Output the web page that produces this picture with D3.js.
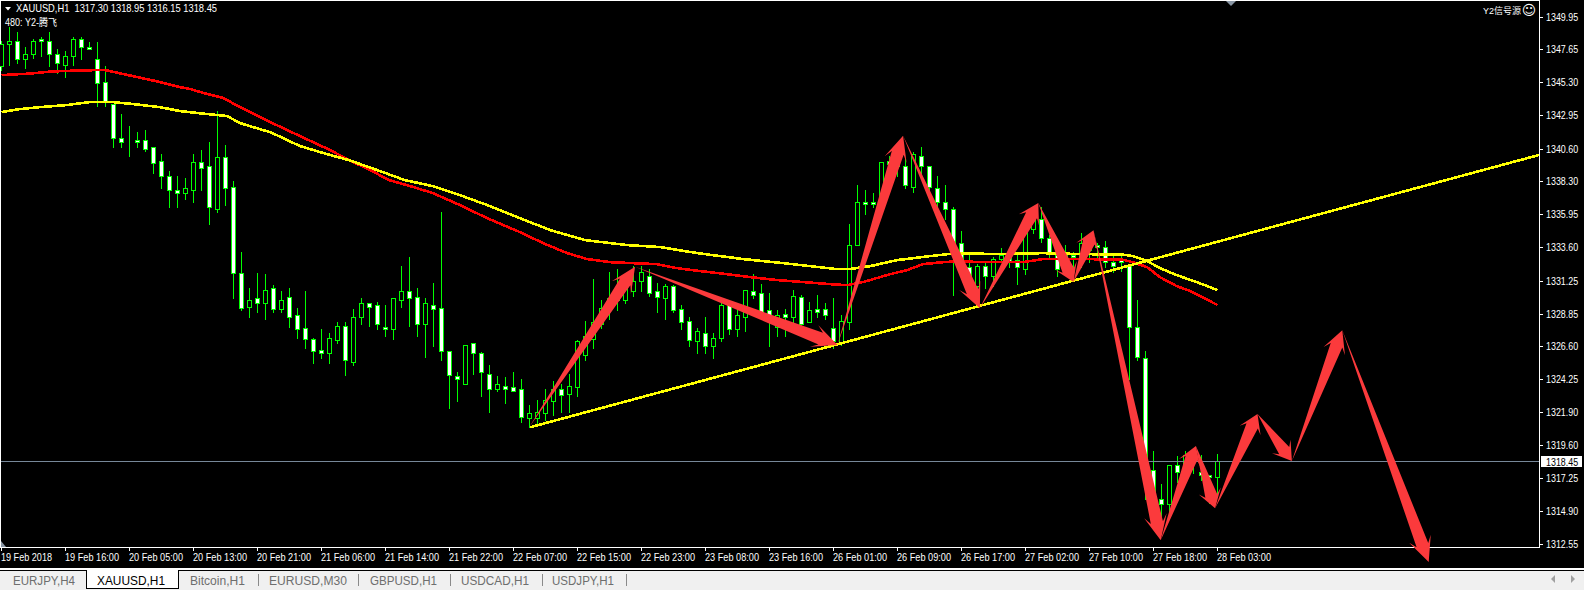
<!DOCTYPE html>
<html><head><meta charset="utf-8">
<script src="https://cdnjs.cloudflare.com/ajax/libs/d3/7.8.5/d3.min.js"></script>
<style>html,body{margin:0;padding:0;background:#f0f0f0;overflow:hidden}svg{display:block}</style>
</head><body><svg id="c" width="1584" height="592"></svg>
<script>
const opens=[1346.40,1347.95,1348.20,1346.90,1347.25,1348.30,1348.20,1347.30,1346.50,1347.10,
1348.30,1347.80,1346.95,1345.30,1343.75,1341.35,1341.15,1341.20,1341.15,1340.65,
1339.70,1338.65,1337.65,1337.40,1337.60,1339.65,1339.30,1336.25,1339.95,1337.85,
1331.75,1329.35,1329.95,1329.65,1330.70,1329.20,1330.05,1328.75,1327.85,1327.10,
1326.30,1326.10,1327.00,1328.00,1325.45,1328.65,1329.60,1329.45,1327.95,1327.80,
1329.85,1330.45,1330.05,1328.15,1329.50,1329.30,1326.25,1324.45,1323.90,1326.75,
1326.10,1324.60,1323.55,1323.75,1323.70,1323.50,1321.50,1321.50,1321.80,1322.65,
1323.55,1323.20,1323.70,1325.90,1327.10,1328.15,1329.15,1330.00,1329.85,1330.50,
1331.20,1331.50,1330.50,1330.00,1330.80,1329.20,1328.35,1326.95,1327.50,1326.55,
1327.15,1329.45,1327.75,1328.65,1330.50,1330.30,1329.10,1327.95,1328.85,1328.65,
1330.05,1328.25,1329.20,1329.20,1327.85,1326.80,1328.30,1333.70,1336.80,1336.80,
1336.75,1339.70,1339.55,1339.30,1337.85,1340.05,1339.30,1337.75,1336.75,1336.25,
1333.90,1332.20,1330.80,1332.25,1331.50,1332.75,1332.85,1332.70,1332.05,1334.90,
1335.60,1334.25,1333.05,1333.00,1333.00,1332.70,1333.70,1333.70,1333.60,1332.50,
1332.70,1332.25,1327.95,1325.75,1317.80,1315.70,1315.35,1318.15,1318.15,1319.10,
1317.65,1317.40,1317.30];
const highs=[1348.20,1349.15,1348.80,1347.75,1348.35,1348.50,1348.80,1347.60,1347.50,1348.50,
1348.45,1348.10,1348.15,1346.45,1343.75,1343.05,1342.20,1341.75,1341.85,1340.65,
1340.15,1338.95,1338.60,1338.45,1340.15,1340.50,1341.00,1343.20,1340.85,1338.30,
1333.25,1330.65,1331.75,1331.70,1330.90,1330.50,1330.65,1329.30,1330.45,1327.15,
1327.75,1327.50,1328.30,1328.30,1329.20,1329.95,1329.60,1329.70,1329.45,1330.00,
1332.25,1332.85,1330.70,1329.95,1331.05,1336.10,1326.25,1324.70,1326.65,1326.80,
1326.15,1325.20,1324.45,1324.35,1324.70,1324.20,1322.40,1322.75,1323.55,1324.10,
1323.90,1324.60,1327.00,1328.35,1331.30,1329.85,1331.85,1332.00,1331.55,1332.25,
1332.25,1332.05,1331.05,1331.00,1330.90,1329.50,1328.65,1327.85,1328.60,1327.50,
1330.00,1329.45,1329.15,1330.55,1331.65,1331.00,1330.35,1329.15,1329.20,1330.55,
1330.20,1329.70,1330.20,1329.65,1329.95,1328.75,1335.20,1337.95,1337.60,1337.40,
1339.65,1340.05,1339.80,1339.80,1340.35,1340.70,1339.30,1338.60,1337.95,1336.40,
1334.70,1333.25,1332.40,1332.50,1332.90,1333.55,1333.40,1333.25,1335.20,1336.10,
1336.40,1334.45,1333.10,1333.70,1333.25,1334.55,1334.25,1333.85,1334.05,1333.05,
1333.10,1332.35,1329.85,1326.25,1319.10,1316.80,1318.15,1318.75,1319.10,1319.20,
1318.85,1317.40,1318.95];
const lows=[1346.15,1346.50,1346.65,1346.30,1347.00,1347.15,1346.40,1345.90,1345.65,1346.50,
1346.95,1347.60,1343.60,1343.60,1340.65,1340.70,1340.05,1340.65,1340.40,1338.85,
1337.75,1336.45,1336.45,1337.00,1336.75,1337.65,1335.25,1336.10,1336.60,1330.00,
1329.15,1328.60,1329.00,1328.50,1329.00,1328.95,1327.95,1327.15,1326.40,1325.40,
1325.75,1325.40,1326.80,1324.55,1325.25,1328.15,1328.00,1327.75,1327.25,1327.10,
1329.35,1328.00,1327.30,1325.80,1326.60,1325.60,1322.20,1322.70,1323.90,1324.60,
1323.00,1321.90,1323.35,1322.50,1323.35,1321.15,1320.85,1321.00,1321.35,1321.70,
1321.90,1321.90,1323.00,1325.60,1326.45,1327.85,1328.45,1329.15,1329.60,1330.15,
1330.50,1330.15,1329.00,1328.50,1328.95,1327.80,1326.55,1326.05,1326.10,1325.70,
1326.95,1327.45,1327.30,1327.65,1329.95,1328.95,1326.60,1327.30,1327.25,1328.25,
1327.95,1328.25,1328.65,1328.50,1326.45,1326.65,1327.75,1333.70,1335.95,1336.40,
1336.75,1339.10,1338.65,1337.80,1337.50,1338.85,1337.50,1336.40,1335.55,1330.20,
1331.30,1330.05,1329.95,1330.70,1330.80,1332.55,1332.15,1331.00,1331.65,1334.60,
1333.95,1332.85,1331.50,1332.00,1332.00,1332.15,1332.55,1332.65,1332.15,1331.85,
1331.90,1324.20,1325.60,1315.70,1315.70,1313.90,1314.90,1316.95,1317.65,1317.60,
1317.05,1315.45,1316.15];
const closes=[1347.95,1348.20,1346.90,1347.25,1348.20,1348.20,1347.30,1346.60,1347.15,1348.30,
1347.80,1347.65,1345.25,1343.90,1341.35,1341.00,1341.15,1341.05,1340.55,1339.55,
1338.60,1337.60,1337.45,1337.75,1339.65,1339.20,1336.40,1339.95,1337.75,1331.75,
1329.30,1329.85,1329.65,1330.55,1329.20,1329.80,1328.65,1327.80,1327.10,1326.25,
1326.10,1327.15,1328.00,1325.60,1328.65,1329.60,1329.35,1328.10,1327.80,1329.95,
1330.45,1330.00,1328.15,1329.60,1329.20,1326.25,1324.55,1324.25,1326.65,1326.05,
1324.70,1323.55,1323.85,1323.55,1323.40,1321.55,1321.85,1321.90,1322.75,1323.55,
1323.10,1323.75,1326.95,1327.25,1328.25,1329.30,1329.95,1329.85,1330.65,1331.20,
1331.85,1330.35,1330.05,1330.80,1329.15,1328.30,1327.00,1327.60,1326.55,1327.15,
1329.50,1327.80,1328.75,1330.55,1330.20,1329.00,1328.65,1328.80,1328.65,1330.15,
1328.15,1329.10,1329.00,1328.80,1326.95,1328.35,1333.70,1336.75,1336.65,1336.65,
1339.65,1339.45,1339.30,1338.00,1340.15,1339.30,1337.85,1336.75,1336.25,1333.75,
1331.85,1331.30,1332.25,1331.50,1332.75,1333.05,1332.55,1332.15,1334.80,1335.65,
1334.25,1333.10,1332.05,1332.55,1332.85,1333.85,1333.40,1333.60,1332.50,1332.25,
1332.55,1327.95,1325.80,1317.80,1315.80,1315.35,1318.15,1317.65,1318.85,1318.35,
1317.45,1317.25,1318.45];

const redBars=[0,3.6,6.1,9.2,12.3,12.9,13.9,16.4,19.8,22.3,23.6,25.7,27.7,29.8,32.3,33.6,37.3,41.1,43.4,46.1,48.4,51.1,53.9,57.3,60.7,64.8,67.7,70.7,73.2,76.1,78.9,81.9,84.4,87.3,90.7,93.6,97,100.2,103.6,105.7,107.7,111.1,113.2,115.2,117.7,120.2,122,125.2,127.7,130.2,135.2,140.1,141.4,143.2,144.8,146.9,148.6,152];
const redPrices=[1345.81,1345.92,1346.06,1346.13,1346.17,1346.17,1346.05,1345.74,1345.32,1344.96,1344.82,1344.47,1344.20,1343.54,1342.83,1342.48,1341.49,1340.49,1339.79,1339.08,1338.37,1337.94,1337.45,1336.60,1335.67,1334.68,1333.90,1333.19,1332.77,1332.55,1332.48,1332.41,1332.13,1331.92,1331.70,1331.49,1331.28,1331.14,1330.99,1330.92,1331.14,1331.70,1331.99,1332.41,1332.55,1332.63,1332.55,1332.55,1332.55,1332.77,1332.77,1332.73,1332.55,1332.20,1331.49,1330.85,1330.50,1329.51];
const yellowBars=[0,2.3,4.8,8.2,11.1,13.9,16.4,19.8,22.3,25.7,28.2,29.8,32.3,33.6,37.3,41.1,43.4,47.3,50.4,53.9,57.3,60.7,64.8,68.6,73,78.2,82.3,87,92.7,97.7,104.4,106,108.6,112,116.1,119.4,124.4,130.2,135.2,140.1,141.4,143.2,144.8,146.9,149.4,152];
const yellowPrices=[1343.19,1343.40,1343.54,1343.69,1343.90,1343.90,1343.76,1343.54,1343.26,1343.05,1342.91,1342.41,1341.98,1341.77,1340.78,1340.14,1339.79,1339.01,1338.37,1337.94,1337.30,1336.60,1335.67,1334.82,1334.11,1333.76,1333.62,1333.19,1332.77,1332.48,1332.06,1332.06,1332.27,1332.70,1332.98,1333.19,1333.12,1333.19,1333.12,1333.09,1332.98,1332.63,1332.13,1331.63,1331.14,1330.57];
const trendBars=[66.1,192.2];
const trendPrices=[1320.85,1340.15];
const zigzagBars=[66,79.2,104.5,112.7,122.3,129.6,134,136.5,144.9,149.3,151.7,157,161.3,167.6,178.4];
const zigzagPrices=[1320.88,1332.22,1326.67,1341.51,1329.29,1336.74,1331.14,1334.82,1312.84,1319.51,1315.11,1321.78,1318.45,1327.73,1311.29];

const priceTicks=[1349.95,1347.65,1345.30,1342.95,1340.60,1338.30,1335.95,1333.60,1331.25,1328.85,1326.60,1324.25,1321.90,1319.60,1317.25,1314.90,1312.55];
const lastPrice=1318.45;
const timeTickBars=[0,8,16,24,32,40,48,56,64,72,80,88,96,104,112,120,128,136,144,152];
const timeLabels=["19 Feb 2018","19 Feb 16:00","20 Feb 05:00","20 Feb 13:00","20 Feb 21:00","21 Feb 06:00","21 Feb 14:00","21 Feb 22:00","22 Feb 07:00","22 Feb 15:00","22 Feb 23:00","23 Feb 08:00","23 Feb 16:00","26 Feb 01:00","26 Feb 09:00","26 Feb 17:00","27 Feb 02:00","27 Feb 10:00","27 Feb 18:00","28 Feb 03:00"];
const tabNames=["EURJPY,H4","XAUUSD,H1","Bitcoin,H1","EURUSD,M30","GBPUSD,H1","USDCAD,H1","USDJPY,H1"];
const tabStarts=[13,97,190,269,370,461,552];
const tabWidths=[62,68,55,78,67,68,62];
const tabSeps=[258,358,450,542,626];

const FONT='"Liberation Sans",sans-serif';
const svg=d3.select("#c");
const x=d3.scaleLinear().domain([0,192]).range([1.5,1537.5]);
const y=d3.scaleLinear().domain([1349.95,1312.55]).range([16.7,544.3]);
const py=v=>Math.round(y(v)-.5)+.5;

svg.append("rect").attr("width",1584).attr("height",568).attr("fill","#000");
// tab bar
svg.append("rect").attr("y",568).attr("width",1584).attr("height",2).attr("fill","#fff");
svg.append("rect").attr("y",570).attr("width",1584).attr("height",1).attr("fill","#000");
svg.append("rect").attr("y",571).attr("width",1584).attr("height",19).attr("fill","#f0f0f0");
svg.append("rect").attr("y",590).attr("width",1584).attr("height",2).attr("fill","#fff");
svg.append("path").attr("d","M86.5 570.5V588.5H178.5V570.5").attr("fill","#fff").attr("stroke","#000").attr("shape-rendering","crispEdges");
svg.append("rect").attr("x",87).attr("y",570).attr("width",91).attr("height",1.5).attr("fill","#fff");
svg.selectAll(".tab").data(tabNames).join("text").attr("x",(d,i)=>tabStarts[i]).attr("y",585)
 .attr("font-family",FONT).attr("font-size",12).attr("fill",(d,i)=>i==1?"#000":"#6e6e6e")
 .attr("textLength",(d,i)=>tabWidths[i]).attr("lengthAdjust","spacingAndGlyphs").text(d=>d);
svg.selectAll(".sep").data(tabSeps).join("rect").attr("x",d=>d).attr("y",574).attr("width",1).attr("height",12).attr("fill","#8a8a8a");
svg.append("path").attr("d","M1555 575V583L1551 579Z M1571 575V583L1575 579Z").attr("fill","#a0a0a0");

// frame
svg.append("path").attr("d","M0.5 0.5H1539.5V547.5H0.5Z").attr("fill","none").attr("stroke","#fff").attr("shape-rendering","crispEdges");
svg.append("path").attr("d","M1226 1H1236L1231 6Z").attr("fill","#8a97a5");
svg.append("path").attr("d","M1 541L6 547H1Z").attr("fill","#8a97a5");

// price axis
const axisY=d3.axisRight(y).tickValues(priceTicks).tickFormat(d3.format(".2f")).tickSize(3).tickPadding(3);
const gy=svg.append("g").attr("transform","translate(1539.5,0)").call(axisY);
gy.select(".domain").remove();
gy.selectAll("line").attr("stroke","#fff").attr("shape-rendering","crispEdges");
gy.selectAll("text").attr("fill","#fff").attr("font-family",FONT).attr("font-size",11)
 .attr("x",0).attr("transform","translate(6.5,0) scale(.81,1)");

// time axis
const g2=svg.append("g");
g2.selectAll("line").data(timeTickBars).join("line").attr("x1",d=>x(d)-.5).attr("x2",d=>x(d)-.5)
 .attr("y1",547).attr("y2",551).attr("stroke","#fff").attr("shape-rendering","crispEdges");
g2.selectAll("text").data(timeLabels).join("text").attr("x",(d,i)=>x(timeTickBars[i])-.5).attr("y",561)
 .attr("fill","#fff").attr("font-family",FONT).attr("font-size",11)
 .attr("textLength",(d,i)=>i==0?51:54).attr("lengthAdjust","spacingAndGlyphs").text(d=>d);

// candles
const bars=d3.range(opens.length);
const plot=svg.append("g").attr("shape-rendering","crispEdges");
plot.selectAll(".w").data(bars).join("line").attr("x1",i=>x(i)).attr("x2",i=>x(i))
 .attr("y1",i=>py(highs[i])-.5).attr("y2",i=>py(lows[i])+.5).attr("stroke","#00ff00");
plot.selectAll(".b").data(bars).join("rect")
 .attr("x",i=>x(i)-2).attr("width",4)
 .attr("y",i=>py(Math.max(opens[i],closes[i])))
 .attr("height",i=>py(Math.min(opens[i],closes[i]))-py(Math.max(opens[i],closes[i])))
 .attr("fill",i=>closes[i]>opens[i]?"#000":"#fff").attr("stroke","#00ff00");

// moving averages
const line=d3.line().x(d=>x(d[0])).y(d=>y(d[1]));
const ma=svg.append("g").attr("fill","none").attr("stroke-width",2.6).attr("shape-rendering","crispEdges");
ma.append("path").attr("d",line(d3.zip(redBars,redPrices))).attr("stroke","#ff0000");
ma.append("path").attr("d",line(d3.zip(yellowBars,yellowPrices))).attr("stroke","#ffff00");
ma.append("path").attr("d",line(d3.zip(trendBars,trendPrices))).attr("stroke","#ffff00");

// last price line
svg.append("line").attr("x1",1).attr("x2",1539).attr("y1",py(lastPrice)).attr("y2",py(lastPrice)).attr("stroke","#778899").attr("shape-rendering","crispEdges");
svg.append("rect").attr("x",1541).attr("y",py(lastPrice)-5.5).attr("width",41).attr("height",11).attr("fill","#fff");
svg.append("text").attr("transform",`translate(1546,${py(lastPrice)+4}) scale(.81,1)`).attr("fill","#000").attr("font-family",FONT).attr("font-size",11)
 .text(d3.format(".2f")(lastPrice));

// hand-drawn arrows
const arrows=svg.append("g").attr("fill","#fb3a3c");
d3.pairs(d3.zip(zigzagBars,zigzagPrices)).forEach(([a,b])=>{
  const x0=x(a[0]),y0=y(a[1]),x1=x(b[0]),y1=y(b[1]);
  const L=Math.hypot(x1-x0,y1-y0),ux=(x1-x0)/L,uy=(y1-y0)/L,nx=-uy,ny=ux;
  const hl=Math.max(18,Math.min(25,L*.16)),bw=11.5,nw=6.2,nk=hl*.72;
  const pt=(d,w)=>[x1-ux*d+nx*w,y1-uy*d+ny*w];
  arrows.append("path").attr("d",d3.line()([[x0,y0],pt(nk,nw),pt(hl,bw),[x1,y1],pt(hl,-bw),pt(nk,-nw)])+"Z");
});

// labels
svg.append("path").attr("d","M5 7H11L8 10.5Z").attr("fill","#fff");
svg.append("text").attr("x",16).attr("y",12).attr("fill","#fff").attr("font-family",FONT).attr("font-size",11.5)
 .attr("textLength",201).attr("lengthAdjust","spacingAndGlyphs").attr("xml:space","preserve").text("XAUUSD,H1  1317.30 1318.95 1316.15 1318.45");
svg.append("text").attr("x",5).attr("y",26).attr("fill","#fff").attr("font-family",'"Liberation Sans","Noto Sans CJK SC",sans-serif').attr("font-size",10.5)
 .attr("textLength",52).attr("lengthAdjust","spacingAndGlyphs").text("480: Y2-腾飞");
svg.append("text").attr("x",1483).attr("y",14).attr("fill","#fff").attr("font-family",'"Liberation Sans","Noto Sans CJK SC",sans-serif').attr("font-size",9)
 .text("Y2信号源");
svg.append("text").attr("x",1529).attr("y",15).attr("text-anchor","middle").attr("fill","#fff").attr("font-family",'"DejaVu Sans",sans-serif').attr("font-size",14).text("☺");
</script></body></html>
